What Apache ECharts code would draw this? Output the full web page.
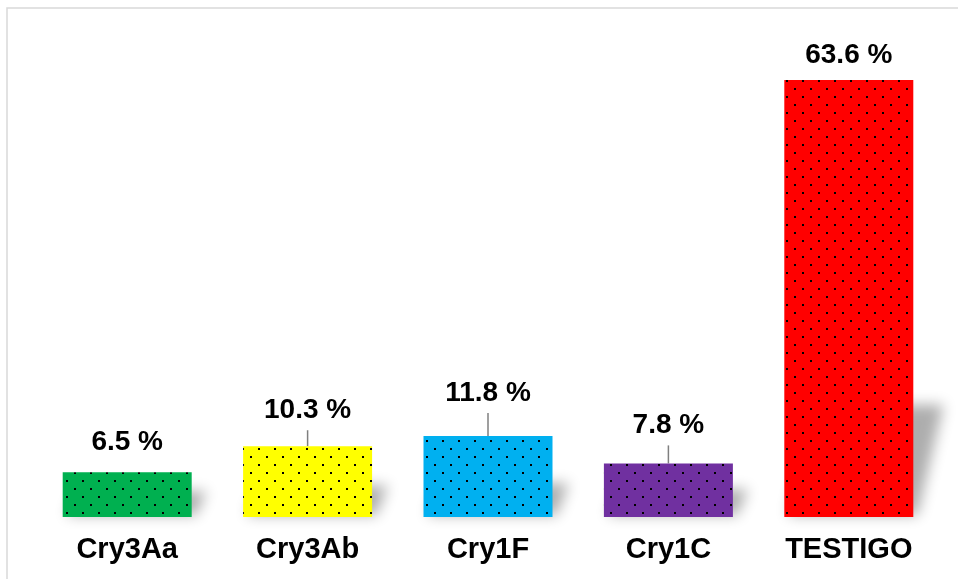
<!DOCTYPE html>
<html>
<head>
<meta charset="utf-8">
<title>Cry bars</title>
<script src="https://cdn.jsdelivr.net/npm/echarts@6/dist/echarts.min.js"></script>
<style>
  html, body { margin: 0; padding: 0; background: #fff; }
  #chart { width: 958px; height: 579px; }
</style>
</head>
<body>
<div id="chart"></div>
<script>
// datos
var categories = ['Cry3Aa', 'Cry3Ab', 'Cry1F', 'Cry1C', 'TESTIGO'];
var values = [6.5, 10.3, 11.8, 7.8, 63.6];
var barColors = ['#00b050', '#ffff00', '#00b0f0', '#7030a0', '#ff0000'];

// distancia etiqueta - barra, y si lleva linea guia
var labelDist = [16, 22, 29, 24, 11];
var leader = [false, true, true, true, false];

var FONT = "'Liberation Sans', Arial, sans-serif";

// trama de puntos negros sobre el color de la barra
function dotPattern(bg) {
  var c = document.createElement('canvas');
  c.width = 16;
  c.height = 16;
  var ctx = c.getContext('2d');
  ctx.fillStyle = bg;
  ctx.fillRect(0, 0, 16, 16);
  ctx.fillStyle = '#000';
  ctx.fillRect(2, 0, 2, 2);
  ctx.fillRect(10, 8, 2, 2);
  return c;
}

var barData = values.map(function (v, i) {
  return {
    value: v,
    itemStyle: { color: { image: dotPattern(barColors[i]), repeat: 'repeat' } },
    label: { distance: labelDist[i] }
  };
});

var myChart = echarts.init(document.getElementById('chart'));

var option = {
  animation: false,
  backgroundColor: '#fff',
  graphic: [{
    type: 'rect',
    shape: { x: 7, y: 8, width: 1000, height: 1000 },
    style: { fill: 'none', stroke: '#d9d9d9', lineWidth: 1.5 },
    silent: true,
    z: 0
  }],
  grid: { left: 37, right: 19, top: 36, bottom: 62 },
  xAxis: {
    type: 'category',
    data: categories,
    axisLine: { show: false },
    axisTick: { show: false },
    axisLabel: {
      margin: 18,
      interval: 0,
      color: '#000',
      fontSize: 29,
      fontWeight: 'bold',
      fontFamily: FONT
    }
  },
  yAxis: {
    type: 'value',
    min: 0,
    max: 70,
    show: false,
    splitLine: { show: false }
  },
  series: [
    {
      // sombra en perspectiva + lineas guia
      type: 'custom',
      z: 1,
      silent: true,
      data: values.map(function (v, i) { return [i, v]; }),
      renderItem: function (params, api) {
        var i = api.value(0);
        var top = api.coord([i, api.value(1)]);
        var base = api.coord([i, 0]);
        var bw = api.size([1, 0])[0] * 0.715;
        var xL = base[0] - bw / 2, xR = base[0] + bw / 2, yB = base[1];
        var h = yB - top[1];
        var sh = h * 0.22 + 16, sx = 6 + sh * 0.18;
        var off = 2000;
        var children = [{
          type: 'polygon',
          shape: {
            points: [
              [xL + 4 - off, yB - 2],
              [xR + 4 - off, yB - 2],
              [xR + 4 + sx - off, yB - sh],
              [xL + 4 + sx - off, yB - sh]
            ]
          },
          style: {
            fill: '#000',
            shadowColor: 'rgba(0,0,0,0.32)',
            shadowBlur: 14,
            shadowOffsetX: off,
            shadowOffsetY: 0
          }
        }];
        if (leader[i]) {
          children.push({
            type: 'line',
            shape: { x1: top[0], y1: top[1] - labelDist[i] + 6, x2: top[0], y2: top[1] },
            style: { stroke: '#7f7f7f', lineWidth: 1.5 }
          });
        }
        return { type: 'group', children: children };
      }
    },
    {
      type: 'bar',
      z: 2,
      barWidth: '71.5%',
      data: barData,
      label: {
        show: true,
        position: 'top',
        color: '#000',
        fontSize: 28,
        fontWeight: 'bold',
        fontFamily: FONT,
        formatter: function (p) { return p.value.toFixed(1) + ' %'; }
      }
    }
  ]
};

myChart.setOption(option);
</script>
</body>
</html>
